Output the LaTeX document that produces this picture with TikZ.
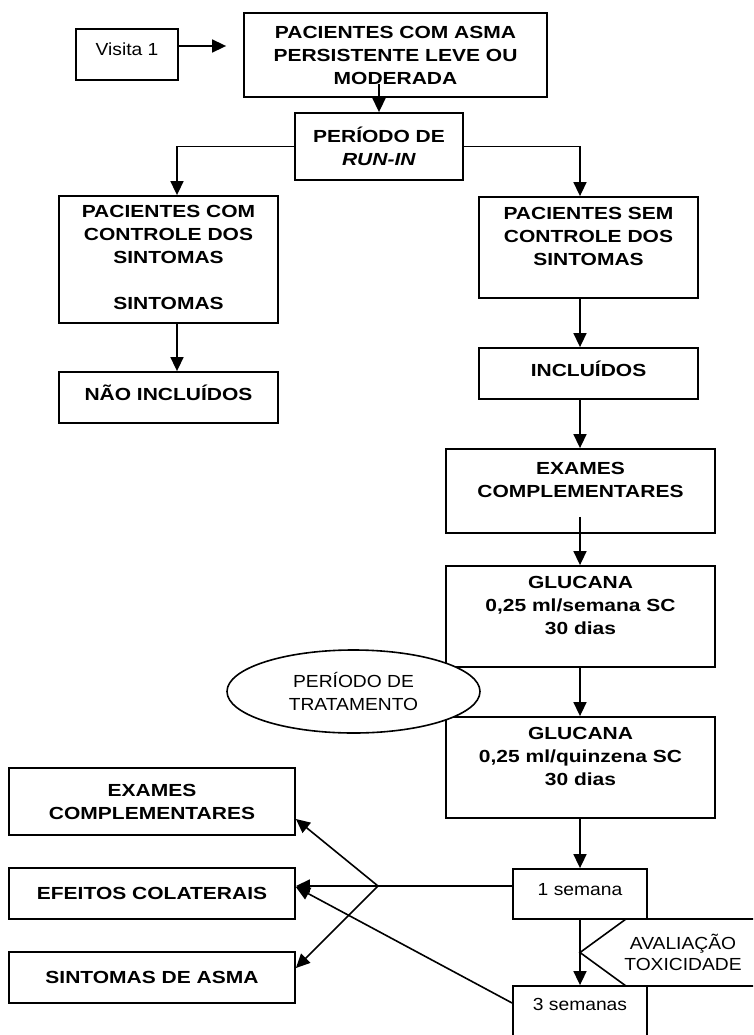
\documentclass[tikz,border=0pt]{standalone}
\usepackage{fontspec}
\setmainfont{Liberation Sans}[UprightFeatures={FakeStretch=1.1},BoldFeatures={FakeStretch=1.2},BoldItalicFeatures={FakeStretch=1.2}]
\usetikzlibrary{arrows.meta,shapes.geometric,calc}
\begin{document}
\begin{tikzpicture}[x=1pt,y=-1pt,
  box/.style={draw, line width=1.8pt, fill=white, align=center, inner sep=0pt, font=\fontsize{17.5}{23}\selectfont\bfseries},
  pbox/.style={box, font=\fontsize{17.5}{23}\selectfont},
  conn/.style={line width=1.6pt},
  arr/.style={conn, -{Triangle[length=14pt,width=13pt]}}]
\useasboundingbox (0,0) rectangle (753,1035);
\clip (0,0) rectangle (753,1035);
\fill[white] (0,0) rectangle (753,1035);

\node[pbox, minimum width=102pt, minimum height=51pt] (vis) at (127,54.5) {Visita 1\\[-13pt]~};
\node[box, minimum width=303pt, minimum height=84pt] (top) at (395.5,55) {PACIENTES COM ASMA\\PERSISTENTE LEVE OU\\MODERADA};
\node[box, minimum width=168pt, minimum height=67pt] (run) at (379,146.5) {PERÍODO DE\\\textit{RUN-IN}};
\node[box, minimum width=219pt, minimum height=127pt] (lc) at (168.5,259.5) {~\\[-14pt]PACIENTES COM\\CONTROLE DOS\\SINTOMAS\\[23pt]SINTOMAS};
\node[box, minimum width=219pt, minimum height=51pt] (nao) at (168.5,397.5) {NÃO INCLUÍDOS\\[-13pt]~};
\node[box, minimum width=219pt, minimum height=101pt] (rc) at (588.5,247.5) {PACIENTES SEM\\CONTROLE DOS\\SINTOMAS\\~};
\node[box, minimum width=219pt, minimum height=51pt] (inc) at (588.5,373.5) {INCLUÍDOS\\[-13pt]~};
\node[box, minimum width=269pt, minimum height=84pt] (exr) at (580.5,491) {EXAMES\\COMPLEMENTARES\\~};
\node[box, minimum width=269pt, minimum height=101pt] (g1) at (580.5,616.5) {GLUCANA\\0,25 ml/semana SC\\30 dias\\~};
\node[box, minimum width=269pt, minimum height=101pt] (g2) at (580.5,767.5) {GLUCANA\\0,25 ml/quinzena SC\\30 dias\\~};
\node[pbox, line width=1.6pt, ellipse, minimum width=253pt, minimum height=83pt] (ell) at (353.5,691.5) {PERÍODO DE\\TRATAMENTO};

\node[box, minimum width=286pt, minimum height=67pt] (lex) at (152,801.5) {EXAMES\\COMPLEMENTARES};
\node[box, minimum width=286pt, minimum height=51pt] (lef) at (152,893.5) {EFEITOS COLATERAIS};
\node[box, minimum width=286pt, minimum height=51pt] (lsa) at (152,977.5) {SINTOMAS DE ASMA};

\draw[conn, fill=white] (760,919) -- (626,919) -- (580,952.5) -- (626,986) -- (760,986);
\node[align=center, font=\fontsize{17.5}{21}\selectfont] (avl) at (683,952) {AVALIAÇÃO\\TOXICIDADE};

\node[pbox, minimum width=134pt, minimum height=50pt] (s1) at (580,894) {1 semana\\[-13pt]~};
\node[pbox, minimum width=134pt, minimum height=60pt] (s3) at (580,1016) {3 semanas\\~};

\draw[arr] ([yshift=8.5pt]vis.east) -- ([xshift=-17pt,yshift=9pt]top.west);
\draw[arr] ($(run.north |- top.south)+(0,-14)$) -- (run.north);
\draw[arr] (run.west) -| ($(lc.north)+(8.5,0)$);
\draw[arr] (run.east) -| ($(rc.north)+(-8.5,0)$);
\draw[arr] ($(lc.south)+(8.5,0)$) -- ($(nao.north)+(8.5,0)$);
\draw[arr] ($(rc.south)+(-8.5,0)$) -- ($(inc.north)+(-8.5,0)$);
\draw[arr] ($(inc.south)+(-8.5,0)$) -- ($(exr.north)+(-0.5,0)$);
\draw[arr] ($(exr.south)+(-0.5,-17)$) -- ($(g1.north)+(-0.5,0)$);
\draw[arr] ($(g1.south)+(-0.5,0)$) -- ($(g2.north)+(-0.5,0)$);
\draw[arr] ($(g2.south)+(-0.5,0)$) -- (s1.north);
\draw[arr] (s1.south) -- (s3.north);
\coordinate (j) at (378,886);
\draw[conn] ([yshift=8pt]s1.west) -- (j);
\draw[arr] (j) -- ($(lex.east)+(0,17.5)$);
\draw[arr] (j) -- ($(lef.east)+(0,-7.5)$);
\draw[arr] (j) -- ($(lsa.east)+(0,-9.5)$);
\draw[arr] ($(s3.west)+(0,-13)$) -- ($(lef.east)+(0,-6.5)$);
\end{tikzpicture}
\end{document}
